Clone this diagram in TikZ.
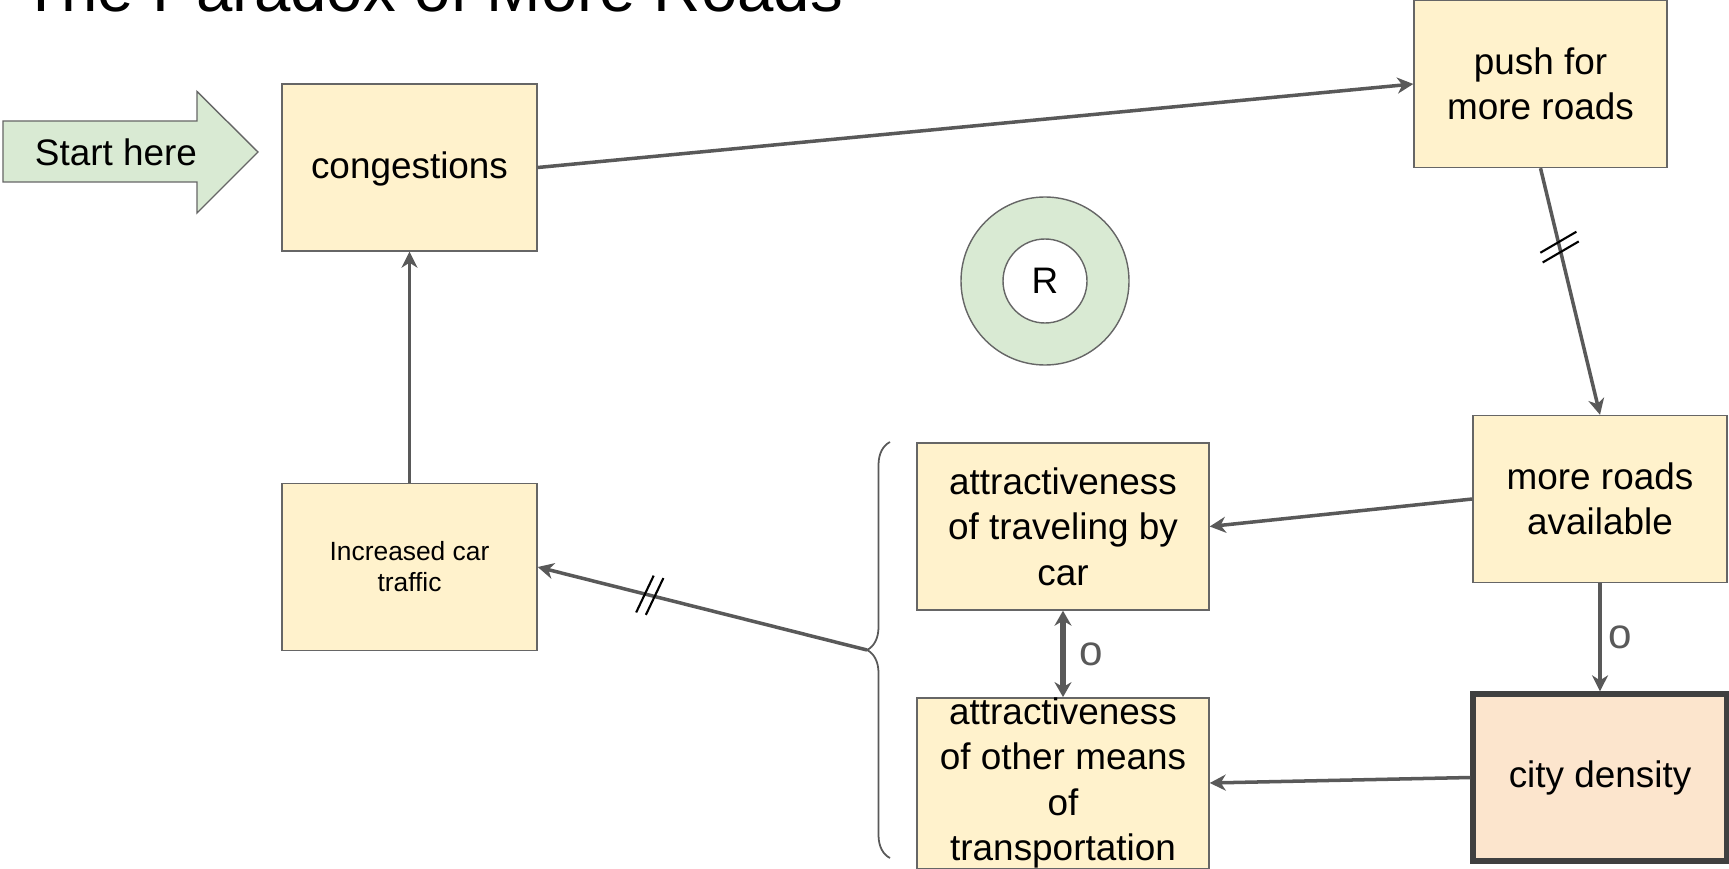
\documentclass[tikz,border=0pt]{standalone}
\usepackage{fontspec}
\setmainfont{Liberation Sans}
\usetikzlibrary{arrows.meta,decorations.pathreplacing,decorations.markings}
\definecolor{notefill}{HTML}{FFF2CC}
\definecolor{noteline}{HTML}{666666}
\definecolor{startfill}{HTML}{D9EAD3}
\definecolor{densfill}{HTML}{FCE5CD}
\definecolor{linkgray}{HTML}{595959}
\def\bigtext{\fontsize{10.5pt}{12.9pt}\selectfont}
\def\smalltext{\fontsize{7.5pt}{8.8pt}\selectfont}

\begin{document}
\begin{tikzpicture}[
		note/.style={draw=noteline, line width=0.4pt, fill=notefill, align=center, minimum width=2.55cm, minimum height=1.67cm, font=\bigtext},
		link/.style={draw=linkgray, line width=1pt, -{Stealth[length=1.6mm, width=1.6mm, inset=0.5mm]}},
		olabel/.style={text=linkgray, inner sep=0.5pt, font=\fontsize{12pt}{14pt}\selectfont},
		delay/.style 2 args={postaction={decorate}, decoration={markings, mark=at position #1 with {
			\draw[black, line width=0.6pt, -] (-0.05-#2,-0.2) -- (-0.05+#2,0.2);
			\draw[black, line width=0.6pt, -] (0.05-#2,-0.2) -- (0.05+#2,0.2);}}}
	]
			%%%%% START %%%%%
			
			\useasboundingbox (0,0) rectangle (17.29,-8.69);
			
			\node[anchor=base west, inner sep=0, font=\fontsize{18.6pt}{22pt}\selectfont] (title) at (0.21,-0.12) {The Paradox of More Roads};
			
			\draw[draw=noteline, line width=0.4pt, fill=startfill] (0.03,-1.21) -- (1.97,-1.21) -- (1.97,-0.915) -- (2.58,-1.52) -- (1.97,-2.13) -- (1.97,-1.82) -- (0.03,-1.82) -- cycle;
			\node[font=\bigtext] (start) at (1.16,-1.52) {Start here};
			
			\node[note, text height=3mm] (congest) at (4.095,-1.675) {congestions};
			\node[note, minimum width=2.53cm] (push) at (15.405,-0.84) {push for\\more roads};
			\node[note, minimum width=2.54cm] (roads) at (16.00,-4.99) {more roads\\available};
			\node[note, minimum width=2.92cm] (carattr) at (10.63,-5.265) {attractiveness\\of traveling by\\car};
			\node[note, minimum width=2.92cm, inner ysep=0pt] (otherattr) at (10.63,-7.83) {attractiveness\\of other means\\of\\transportation};
			\node[note, minimum width=2.54cm, fill=densfill, draw=black!75, line width=1.5pt] (density) at (16.00,-7.775) {city density};
			\node[note, font=\smalltext] (traffic) at (4.095,-5.67) {Increased car\\traffic};
			
			\node[circle, draw=noteline, line width=0.4pt, fill=startfill, minimum size=1.68cm] (loop) at (10.45,-2.81) {};
			\node[circle, draw=noteline, line width=0.4pt, fill=white, minimum size=0.84cm, font=\bigtext] (loopr) at (loop) {R};
			
			\draw[linkgray, line width=0.5pt, decorate, decoration={brace, amplitude=0.23cm}] (8.90,-8.58) -- (8.90,-4.42);
			\coordinate (bracetip) at (8.67,-6.50);
			
			\draw[link] (congest.east) -- (push.west);
			\draw[link, delay={0.32}{-0.06}] (push.south) -- (roads.north);
			\draw[link] (roads.west) -- (carattr.east);
			\draw[link] (roads.south) -- node[olabel, right=0.5mm] (odens) {o} (density.north);
			\draw[link] (density.west) -- (otherattr.east);
			\draw[link, line width=1.5pt, {Stealth[length=1.5mm, width=1.7mm, inset=0.5mm]}-{Stealth[length=1.5mm, width=1.7mm, inset=0.5mm]}] (carattr.south) -- node[olabel, right=1.2mm] (omeans) {o} (otherattr.north);
			\draw[link, delay={0.66}{0.04}] (bracetip) -- (traffic.east);
			\draw[link] (traffic.north) -- (congest.south);
			
			%%%%% END %%%%%
		\end{tikzpicture}
\end{document}
